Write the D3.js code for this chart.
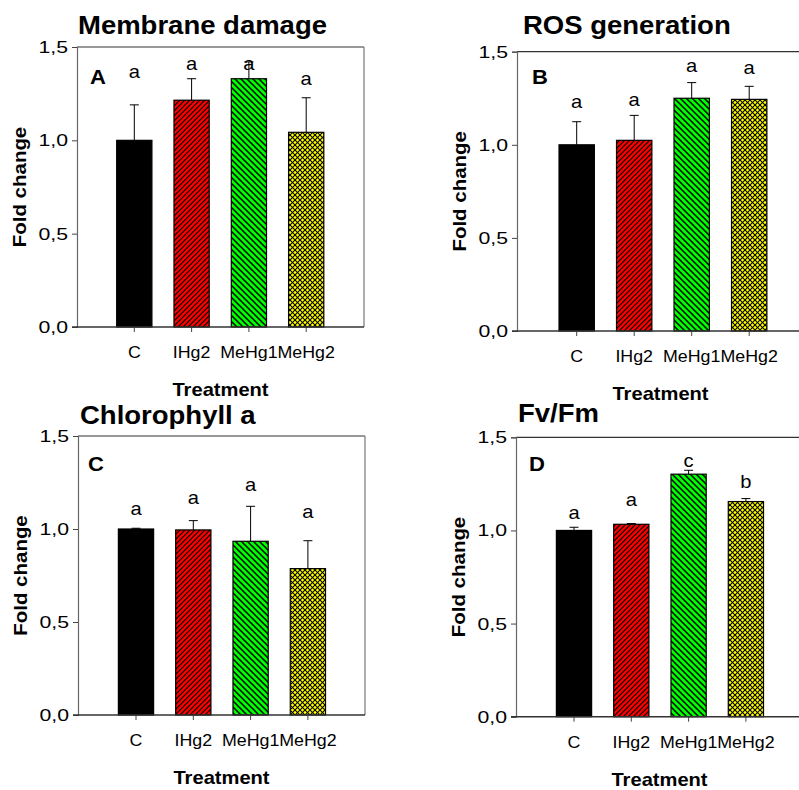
<!DOCTYPE html>
<html><head><meta charset="utf-8">
<script src="https://cdn.jsdelivr.net/npm/d3@7"></script>
<style>
body{margin:0;background:#fff}
svg{display:block}
text{font-family:"Liberation Sans",Arial,sans-serif;fill:#000}
</style>
</head><body><svg id="chart" width="799" height="790"></svg>
<script>
// ---------- DATA ----------
const categories = ["C", "IHg2", "MeHg1", "MeHg2"];
const yTicks = [0, 0.5, 1.0, 1.5];
const yTickLabels = ["0,0", "0,5", "1,0", "1,5"];
const panelTitles = ["Membrane damage", "ROS generation", "Chlorophyll a", "Fv/Fm"];
const panelLetters = ["A", "B", "C", "D"];
const yAxisTitle = "Fold change";
const xAxisTitle = "Treatment";

// Panel A: Membrane damage
const meansA = [1.00, 1.215, 1.33, 1.043];
const errA   = [0.19, 0.115, 0.09, 0.185];
const sigA   = ["a", "a", "a", "a"];
const sigPosA = [1.362, 1.403, 1.403, 1.323];
// Panel B: ROS generation
const meansB = [1.00, 1.024, 1.25, 1.244];
const errB   = [0.124, 0.134, 0.084, 0.07];
const sigB   = ["a", "a", "a", "a"];
const sigPosB = [1.226, 1.237, 1.42, 1.407];
// Panel C: Chlorophyll a
const meansC = [1.00, 0.995, 0.934, 0.787];
const errC   = [0.004, 0.05, 0.188, 0.15];
const sigC   = ["a", "a", "a", "a"];
const sigPosC = [1.10, 1.16, 1.233, 1.084];
// Panel D: Fv/Fm
const meansD = [1.00, 1.033, 1.302, 1.155];
const errD   = [0.017, 0.004, 0.021, 0.016];
const sigD   = ["a", "a", "c", "b"];
const sigPosD = [1.087, 1.16, 1.366, 1.257];

// ---------- LAYOUT / STYLE ----------
const layouts = [
  {left: 77,  right: 364, top: 47,    bottom: 327,   c0: 134.3, step: 57.3, titleX: 78,  titleY: 34,  letterX: 98,  letterY: 84},
  {left: 517, right: 804, top: 51.7,  bottom: 331,   c0: 576.7, step: 57.5, titleX: 523, titleY: 33.5, letterX: 540, letterY: 84},
  {left: 78,  right: 365, top: 436,   bottom: 715,   c0: 136,   step: 57.3, titleX: 80,  titleY: 423.5, letterX: 96, letterY: 470.5},
  {left: 516, right: 803, top: 437.3, bottom: 716.7, c0: 574,   step: 57.3, titleX: 518, titleY: 421.5, letterX: 537, letterY: 470.5}
];
const panelData = [
  {means: meansA, err: errA, sig: sigA, sigPos: sigPosA},
  {means: meansB, err: errB, sig: sigB, sigPos: sigPosB},
  {means: meansC, err: errC, sig: sigC, sigPos: sigPosC},
  {means: meansD, err: errD, sig: sigD, sigPos: sigPosD}
];
const fills = ["#000000", "url(#hatchRed)", "url(#hatchGreen)", "url(#crossYellow)"];

const svg = d3.select("#chart");
const defs = svg.append("defs");

function hatch(id, size, bg, paths, sw) {
  const p = defs.append("pattern").attr("id", id).attr("patternUnits", "userSpaceOnUse")
    .attr("width", size).attr("height", size);
  p.append("rect").attr("width", size).attr("height", size).attr("fill", bg);
  paths.forEach(d => p.append("path").attr("d", d).attr("stroke", "#000").attr("stroke-width", sw)
    .attr("fill", "none"));
}
hatch("hatchRed", 5, "#ff0000", ["M0,5L5,0", "M-1,1L1,-1", "M4,6L6,4"], 1.2);
hatch("hatchGreen", 6, "#00ff00", ["M0,0L6,6", "M-1,5L1,7", "M5,-1L7,1"], 1.5);
hatch("crossYellow", 5, "#ffff00", ["M0,5L5,0", "M-1,1L1,-1", "M4,6L6,4", "M0,0L5,5", "M-1,4L1,6", "M4,-1L6,1"], 1.05);

// stretched text helper
function stext(g, x, y, str, opt) {
  const t = g.append("text")
    .attr("transform", `translate(${x},${y})` + (opt.rotate ? ` rotate(${opt.rotate})` : "") + ` scale(${opt.sx || 1},1)`)
    .attr("text-anchor", opt.anchor || "start")
    .attr("font-size", opt.size)
    .attr("font-weight", opt.bold ? "bold" : "normal")
    .text(str);
  return t;
}

layouts.forEach((L, i) => {
  const D = panelData[i];
  const g = svg.append("g");
  const y = d3.scaleLinear().domain([0, 1.5]).range([L.bottom, L.top]);
  const x0 = L.c0 - L.step / 2;
  const x = d3.scaleBand().domain(categories).range([x0, x0 + L.step * categories.length])
    .paddingInner(0.385).paddingOuter(0.1925);

  // frame (top & right)
  g.append("line").attr("x1", L.left).attr("x2", L.right).attr("y1", L.top).attr("y2", L.top)
    .attr("stroke", "#333").attr("stroke-width", 1.2);
  g.append("line").attr("x1", L.right).attr("x2", L.right).attr("y1", L.top).attr("y2", L.bottom)
    .attr("stroke", "#777").attr("stroke-width", 1.2);

  // bars
  const rows = categories.map((c, k) => ({c, m: D.means[k], e: D.err[k], s: D.sig[k], sp: D.sigPos[k], f: fills[k]}));
  g.selectAll("rect.bar").data(rows).enter().append("rect")
    .attr("x", d => x(d.c)).attr("width", x.bandwidth())
    .attr("y", d => y(d.m)).attr("height", d => y(0) - y(d.m))
    .attr("fill", d => d.f).attr("stroke", "#000").attr("stroke-width", 1.2);

  // error bars (upper only)
  rows.forEach(d => {
    const cx = x(d.c) + x.bandwidth() / 2;
    g.append("line").attr("x1", cx).attr("x2", cx).attr("y1", y(d.m)).attr("y2", y(d.m + d.e))
      .attr("stroke", "#000").attr("stroke-width", 1);
    g.append("line").attr("x1", cx - 4.5).attr("x2", cx + 4.5).attr("y1", y(d.m + d.e)).attr("y2", y(d.m + d.e))
      .attr("stroke", "#000").attr("stroke-width", 1);
    stext(g, cx, y(d.sp) + 5, d.s, {anchor: "middle", size: 18, sx: 1.12});
  });

  // y axis
  const ya = g.append("g").attr("transform", `translate(${L.left},0)`)
    .call(d3.axisLeft(y).tickValues(yTicks).tickSize(5).tickFormat(""));
  ya.select(".domain").attr("stroke", "#666").attr("stroke-width", 1.2);
  ya.selectAll(".tick line").attr("stroke", "#444");
  yTicks.forEach((v, k) => stext(g, L.left - 9, y(v) + 6, yTickLabels[k], {anchor: "end", size: 17, sx: 1.25}));

  // x axis
  const xa = g.append("g").attr("transform", `translate(0,${L.bottom})`)
    .call(d3.axisBottom(x).tickSize(5).tickSizeOuter(0).tickFormat(""));
  xa.select(".domain").remove();
  xa.selectAll(".tick line").attr("stroke", "#444");
  g.append("line").attr("x1", L.left - 5).attr("x2", L.right).attr("y1", L.bottom).attr("y2", L.bottom)
    .attr("stroke", "#333").attr("stroke-width", 1.4);
  categories.forEach(c => stext(g, x(c) + x.bandwidth() / 2, L.bottom + 31, c, {anchor: "middle", size: 16.5, sx: 1.08}));

  // titles
  stext(g, L.titleX, L.titleY, panelTitles[i], {size: 25, bold: true, sx: 1.1});
  stext(g, L.letterX, L.letterY, panelLetters[i], {anchor: "middle", size: 21, bold: true, sx: 1.05});
  stext(g, (L.left + L.right) / 2, L.bottom + 69, xAxisTitle, {anchor: "middle", size: 17.5, bold: true, sx: 1.15});
  stext(g, L.left - 51, (L.top + L.bottom) / 2, yAxisTitle, {anchor: "middle", size: 17.5, bold: true, sx: 1.17, rotate: -90});
});
</script>
</body></html>
